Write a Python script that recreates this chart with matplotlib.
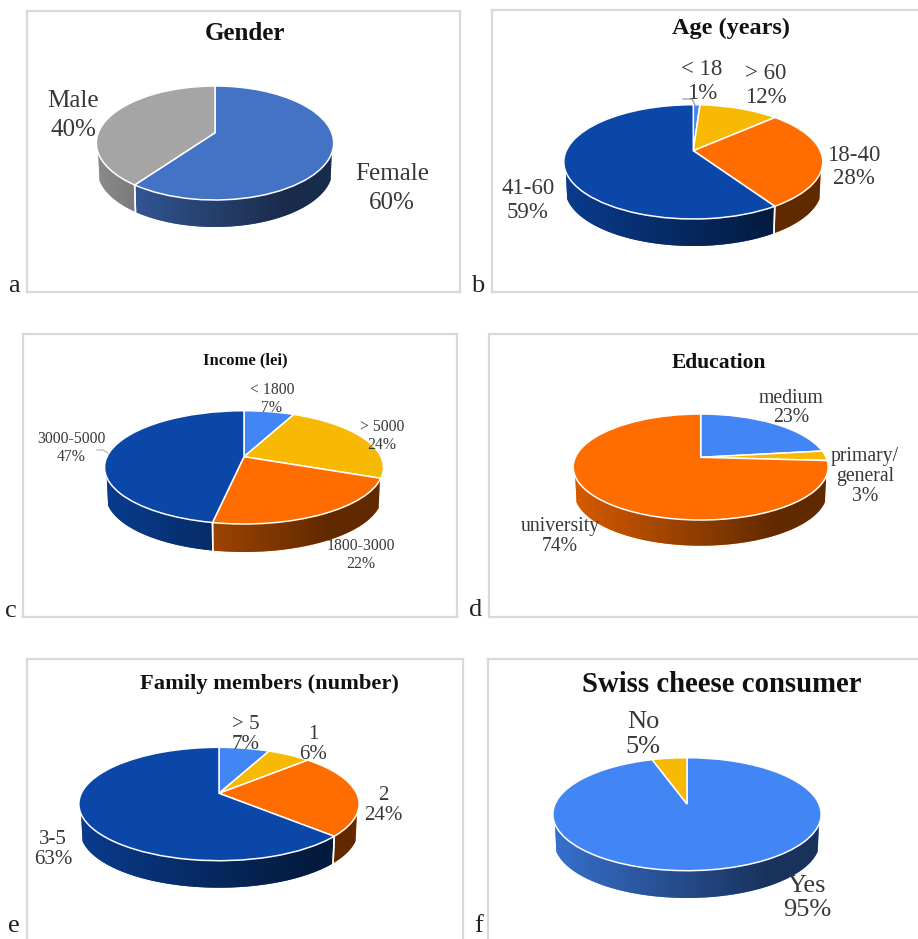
import numpy as np
import matplotlib
matplotlib.use("Agg")
import matplotlib.pyplot as plt
from matplotlib.patches import PathPatch
from matplotlib.path import Path
from matplotlib.transforms import Transform

# ---- survey data -------------------------------------------------------
gender_labels = ["Female", "Male"]
gender_values = [60, 40]
age_labels = ["< 18", "> 60", "18-40", "41-60"]
age_values = [1, 12, 28, 59]
income_labels = ["< 1800", "> 5000", "1800-3000", "3000-5000"]
income_values = [7, 24, 22, 47]
education_labels = ["medium", "primary/\ngeneral", "university"]
education_values = [23, 3, 74]
family_labels = ["> 5", "1", "2", "3-5"]
family_values = [7, 6, 24, 63]
swiss_labels = ["Yes", "No"]
swiss_values = [95, 5]

# ---- palette -----------------------------------------------------------
BLUE, GOLD, ORANGE, NAVY = "#4285f4", "#f8b904", "#ff6d01", "#0b47a8"
WIDTH, HEIGHT = 918, 939


class TiltTransform(Transform):
    """Projects the unit pie circle onto a tilted disc seen in perspective."""
    input_dims = output_dims = 2
    is_separable = False
    has_inverse = False

    def __init__(self, cx, left, right, top, bottom, apex):
        super().__init__()
        self.cx, self.apex = cx, apex
        up, down = apex - top, bottom - apex
        self.b = 2 / (1 / up + 1 / down)
        self.k = self.b / up - 1
        self.a = (right - left) / 2 * np.sqrt(1 - self.k ** 2)

    def transform_non_affine(self, values):
        u, v = np.asarray(values, float).T
        w = 1 + self.k * v
        return np.column_stack((self.cx + self.a * u / w, self.apex - self.b * v / w))


def side_gradient(color):
    """RGB strip that darkens from the left of the disc towards the right."""
    base = np.array(matplotlib.colors.to_rgb(color))
    t = np.linspace(0, 1, 256)
    shade = np.interp(t, [0, 0.8, 1], [0.84, 0.38, 0.38])
    return (base[None, :] * shade[:, None])[None, :, :]


def draw_panel(frame, title, title_pos, title_size, values, labels, colors, disc,
               depth, label_pos, label_size, line_gap, letter, letter_pos):
    x0, x1, y0, y1 = frame
    ax = fig.add_axes([x0 / WIDTH, 1 - y1 / HEIGHT, (x1 - x0) / WIDTH, (y1 - y0) / HEIGHT])
    left, right, top, bottom, apex = disc
    cx = apex[0]
    half = (right - left) / 2
    tilt = TiltTransform(cx, left, right, top, bottom, apex[1])

    wedges, _ = ax.pie(values, colors=colors, startangle=90, counterclock=False,
                       wedgeprops=dict(edgecolor="white", linewidth=1.1))
    for w in wedges:
        w.set_transform(tilt + ax.transData)
        w.set_clip_on(False)
        w.set_zorder(3)

    # visible wall of the disc, one clipped gradient per slice
    front_start = np.degrees(np.arccos(-tilt.k)) + 10
    front_end = 360 - front_start
    edges = np.concatenate(([0], np.cumsum(values))) / np.sum(values) * 360
    scale = 0.99
    for start, end, color in zip(edges[:-1], edges[1:], colors):
        a0, a1 = max(start, front_start), min(end, front_end)
        if a1 - a0 < 2:
            continue
        th = np.radians(np.linspace(a0, a1, 120))
        rim = tilt.transform(np.column_stack((np.sin(th), np.cos(th))))
        low = np.column_stack((cx + scale * (rim[:, 0] - cx), rim[:, 1] + depth))
        outline = np.vstack((rim, low[::-1], rim[:1]))
        patch = PathPatch(Path(outline), facecolor=color, edgecolor="none", zorder=1)
        ax.add_patch(patch)
        img = ax.imshow(side_gradient(color), aspect="auto",
                        extent=(cx - half, cx + half, y1, y0), interpolation="bilinear", zorder=1.5)
        img.set_clip_path(patch)
        for side, keep in ((0, a0 == start), (-1, a1 == end)):
            if keep:
                ax.plot([rim[side, 0], low[side, 0]], [rim[side, 1], low[side, 1]],
                        color="white", lw=1.1, zorder=2)

    ax.text(title_pos[0], title_pos[1], title, ha="center", va="center", fontsize=title_size,
            fontweight="bold", color="#111111", family="Liberation Serif")
    for name, value, (lx, ly) in zip(labels, values, label_pos):
        ax.text(lx, ly + 0.15 * label_size, f"{name}\n{value}%", ha="center", va="center",
                fontsize=label_size, color="#383838", family="Liberation Serif",
                linespacing=line_gap, zorder=5)

    ax.set_frame_on(True)
    for spine in ax.spines.values():
        spine.set_color("#d9d9d9")
        spine.set_linewidth(1.6)
    ax.set_xticks([])
    ax.set_yticks([])
    ax.set_aspect("auto")
    ax.set_xlim(x0, x1)
    ax.set_ylim(y1, y0)

    fig.text(letter_pos[0] / WIDTH, 1 - letter_pos[1] / HEIGHT, letter, ha="center",
             va="baseline", fontsize=19, color="#222222", family="Liberation Serif")
    return ax


fig = plt.figure(figsize=(WIDTH / 100, HEIGHT / 100), dpi=100, facecolor="white")

draw_panel((27, 460, 11, 292), "Gender", (245, 34), 18, gender_values, gender_labels,
           ["#4472c4", "#a5a5a5"], (96.7, 334, 86, 200, (215, 132.7)), 27,
           [(392, 186), (73, 112.5)], 18, 1.4, "a", (14, 292))

ax_b = draw_panel((492, 940, 10, 292), "Age (years)", (731.5, 28), 17.5, age_values, age_labels,
                  [BLUE, GOLD, ORANGE, NAVY], (563.3, 822.3, 104.7, 219, (693.3, 150.7)), 27,
                  [(702, 79), (766, 83), (853.5, 164.5), (528, 198)], 16.5, 1.15, "b", (478, 292))
ax_b.plot([683, 692, 695], [99, 99, 105], color="#a6a6a6", lw=1, zorder=4)

ax_c = draw_panel((23, 457, 334, 617), "Income (lei)", (245, 360), 12, income_values, income_labels,
                  [BLUE, GOLD, ORANGE, NAVY], (104, 383, 410.7, 524, (244, 456.7)), 28,
                  [(272, 397), (382, 434), (361, 553), (71, 446)], 11.3, 1.15, "c", (11, 617))
ax_c.plot([97, 103, 108], [450, 450, 453], color="#bfbfbf", lw=1, zorder=4)

draw_panel((489, 940, 334, 617), "Education", (719, 363.5), 15.5, education_values, education_labels,
           [BLUE, GOLD, ORANGE], (573.3, 828.3, 414, 520, (700.7, 457.3)), 25.7,
           [(791, 406), (865, 474.5), (560, 534.5)], 14.2, 1.05, "d", (476, 616))

draw_panel((27, 463, 659, 960), "Family members (number)", (269, 684), 16.2, family_values, family_labels,
           [BLUE, GOLD, ORANGE, NAVY], (79, 359.3, 747.3, 860.7, (219, 793.3)), 27,
           [(246, 732.5), (313, 742.5), (383, 803.5), (53, 847.5)], 15, 1.07, "e", (14, 932))

draw_panel((488, 940, 659, 960), "Swiss cheese consumer", (721.5, 684), 20.7, swiss_values, swiss_labels,
           [BLUE, GOLD], (552.7, 821, 757.7, 870.7, (687, 804)), 27.3,
           [(807, 895), (643, 731.5)], 19, 1.15, "f", (479, 932))

fig.savefig("out.png", dpi=100)
